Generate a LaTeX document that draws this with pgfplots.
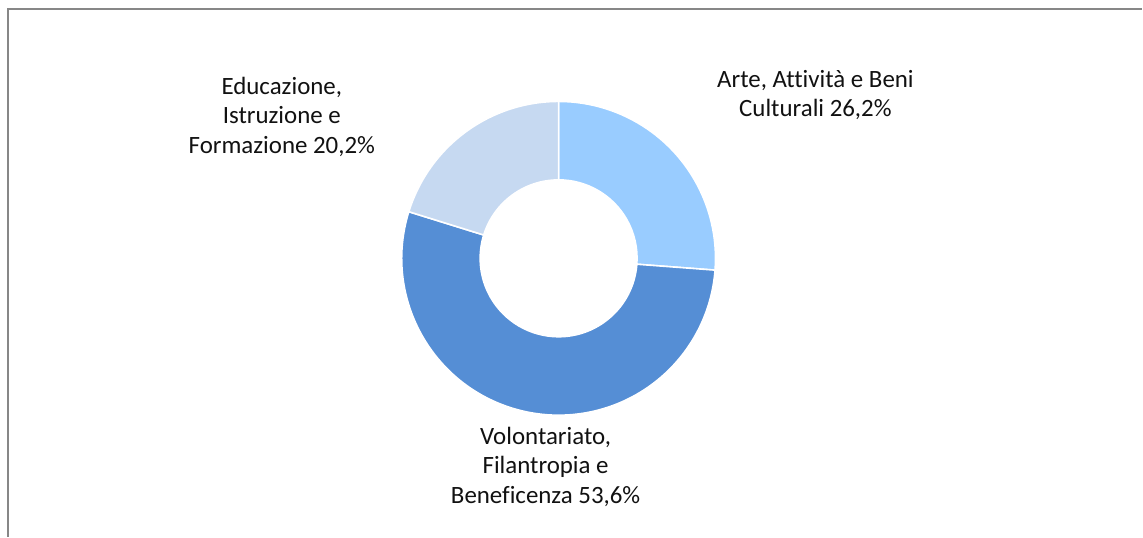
\documentclass[border=0pt]{standalone}
\usepackage{fontspec}
\setmainfont{Carlito}[Ligatures={NoCommon}]
\usepackage{pgfplots}
\pgfplotsset{compat=1.18}

\definecolor{arte}{HTML}{99CCFF}
\definecolor{volo}{HTML}{558ED5}
\definecolor{educ}{HTML}{C6D9F1}
\definecolor{frame}{HTML}{878787}
\definecolor{txt}{HTML}{111111}

% shares (percent), clockwise from 12 o'clock
\def\pArte{26.2}
\def\pVolo{53.6}
\def\pEduc{20.2}

\begin{document}
\begin{tikzpicture}
\begin{axis}[
    hide axis,
    scale only axis,
    width=571.5bp, height=268.5bp,
    xmin=0, xmax=1143, ymin=0, ymax=537,
    clip=false,
]
\path (axis cs:0,0) rectangle (axis cs:1143,537);
% chart frame
\draw[frame, line width=0.8bp] (axis cs:8,0) -- (axis cs:8,528) -- (axis cs:1143,528);

\coordinate (C) at (axis cs:559,278.5);
\pgfmathsetmacro{\aA}{90}
\pgfmathsetmacro{\aB}{90-3.6*\pArte}
\pgfmathsetmacro{\aC}{\aB-3.6*\pVolo}
\pgfmathsetmacro{\aD}{\aC-3.6*\pEduc}

\filldraw[fill=arte, draw=white, line width=0.8bp]
  ([shift={(C)}]\aA:39.25bp) arc[start angle=\aA, end angle=\aB, radius=39.25bp]
  -- ([shift={(C)}]\aB:78.5bp) arc[start angle=\aB, end angle=\aA, radius=78.5bp] -- cycle;
\filldraw[fill=volo, draw=white, line width=0.8bp]
  ([shift={(C)}]\aB:39.25bp) arc[start angle=\aB, end angle=\aC, radius=39.25bp]
  -- ([shift={(C)}]\aC:78.5bp) arc[start angle=\aC, end angle=\aB, radius=78.5bp] -- cycle;
\filldraw[fill=educ, draw=white, line width=0.8bp]
  ([shift={(C)}]\aC:39.25bp) arc[start angle=\aC, end angle=\aD, radius=39.25bp]
  -- ([shift={(C)}]\aD:78.5bp) arc[start angle=\aD, end angle=\aC, radius=78.5bp] -- cycle;

\tikzset{lab/.style={align=center, text=txt, font=\fontsize{12.5}{14.75}\selectfont, inner sep=0pt}}
\node[lab] at (axis cs:816,442) {Arte, Attività e Beni\\Culturali 26,2\%};
\node[lab] at (axis cs:546,70) {Volontariato,\\Filantropia e\\Beneficenza 53,6\%};
\node[lab] at (axis cs:282,420) {Educazione,\\Istruzione e\\Formazione 20,2\%};
\end{axis}
\end{tikzpicture}
\end{document}
